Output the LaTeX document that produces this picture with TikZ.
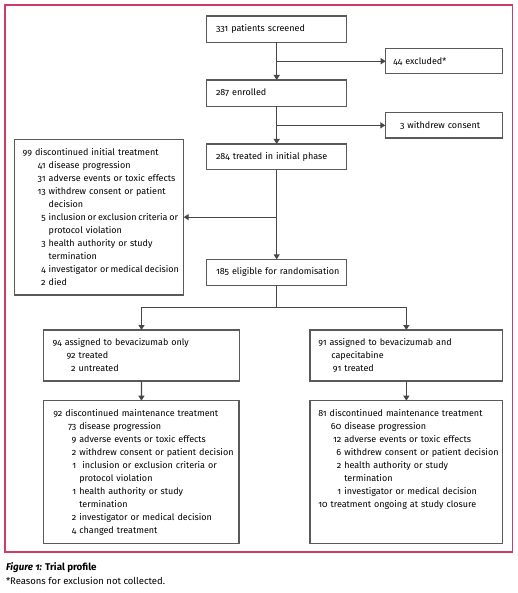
\documentclass[tikz,border=0pt]{standalone}
\usepackage{fontspec}
\setmainfont{Fira Sans}[Numbers={OldStyle,Proportional}]
\usetikzlibrary{arrows.meta}
\definecolor{framec}{RGB}{205,60,100}
\definecolor{linec}{RGB}{70,70,70}
\definecolor{boxc}{RGB}{90,90,90}
\newlength{\numw}
\setlength{\numw}{10pt}
\newcommand{\nm}[2]{\mbox{\hspace*{13pt}\makebox[\numw][r]{#1}\ #2}}
\newcommand{\ct}[1]{\mbox{\hspace*{13pt}\hspace*{\numw}\ #1}}
\newcommand{\hd}[1]{\mbox{#1}}
\newcommand{\tight}[1]{{\spaceskip=0.19em\relax #1}}
\tikzset{
  box/.style={draw=boxc, line width=1.1pt, outer sep=0pt, inner ysep=0pt,
    anchor=north west, align=left, font=\fontsize{9}{13}\selectfont},
  arr/.style={draw=linec, line width=1.1pt, -{Triangle[length=5pt,width=6pt]}},
  ln/.style={draw=linec, line width=1.1pt},
  captxt/.style={anchor=west, inner sep=0pt, outer sep=0pt}
}
\newcommand{\bx}[3]{\node[box, minimum width=#1pt, minimum height=#2pt, text width=#1pt-2*#3pt, inner xsep=#3pt]}
\begin{document}
\begin{tikzpicture}[x=1pt,y=-1pt]
\useasboundingbox (0,0) rectangle (517,593);
\draw[framec, line width=1.1pt] (5,5) rectangle (512.5,552);

\bx{140}{26.3}{9.3} (scr) at (206.7,16) {\hd{331 patients screened}};
\bx{117}{25}{7.7} (excl) at (385.7,48.7) {\hd{44 excluded*}};
\bx{140}{26.3}{9.3} (enr) at (206.7,80) {\hd{287 enrolled}};
\bx{117}{25.3}{14.7} (wd) at (385.3,112.7) {\hd{3 withdrew consent}};
\bx{140}{25.7}{9.3} (tr) at (206.7,144) {\hd{284 treated in initial phase}};
\bx{169}{155.7}{8} (disc) at (14.7,139.3) {\hd{99 discontinued initial treatment}\\
\nm{41}{disease progression}\\
\nm{31}{adverse events or toxic effects}\\
\nm{13}{withdrew consent or patient}\\
\ct{decision}\\
\nm{5}{\tight{inclusion or exclusion criteria or}}\\
\ct{protocol violation}\\
\nm{3}{health authority or study}\\
\ct{termination}\\
\nm{4}{\tight{investigator\ \,or medical decision}}\\
\nm{2}{died}};
\bx{140}{26}{9.3} (elig) at (206.7,259.3) {\hd{185 eligible for randomisation}};
\bx{195.6}{51}{9} (b94) at (43.7,330) {\hd{94 assigned to bevacizumab only}\\
\nm{92}{treated}\\
\nm{2}{untreated}};
\bx{192.7}{51}{8.3} (b91) at (310,330) {\hd{91 assigned to bevacizumab and}\\
\hd{\hspace*{13pt}capecitabine}\\
\nm{91}{treated}};
\bx{195.3}{143}{9.6} (b92) at (43.7,400.7) {\hd{92 discontinued maintenance treatment}\\
\nm{73}{disease progression}\\
\nm{9}{adverse events or toxic effects}\\
\nm{2}{withdrew consent or patient decision}\\
\nm{1}{\ inclusion or exclusion criteria or}\\
\ct{protocol violation}\\
\nm{1}{health authority or study}\\
\ct{termination}\\
\nm{2}{investigator or medical decision}\\
\nm{4}{changed treatment}};
\bx{192.7}{143}{8.3} (b81) at (310,400.7) {\hd{81 discontinued maintenance treatment}\\
\nm{60}{disease progression}\\
\nm{12}{adverse events or toxic effects}\\
\nm{6}{withdrew consent or patient decision}\\
\nm{2}{health authority or study}\\
\ct{termination}\\
\nm{1}{investigator or medical decision}\\
\hd{10 treatment ongoing at study closure}\rule[-28pt]{0pt}{0pt}};

\draw[arr] (scr) -- (enr);
\draw[arr] (scr.south |- excl.west) -- (excl.west);
\draw[arr] (enr) -- (tr);
\draw[arr] (enr.south |- wd.west) -- (wd.west);
\draw[arr] (tr) -- (elig);
\draw[arr] (tr.south |- disc.east) -- (disc.east);
\coordinate (split) at ([yshift=-22pt]elig.south);
\draw[ln] (elig.south) -- (split);
\draw[arr] (split) -| (b94.north);
\draw[arr] (split) -| (b91.north);
\draw[arr] (b94) -- (b92);
\draw[arr] (b91) -- (b81);

\node[captxt, font=\fontsize{9.8}{11}\selectfont\bfseries] (cap1) at (6,567.7) {\textit{Figure 1:} Trial profile};
\node[captxt, font=\fontsize{9.5}{11}\selectfont] (cap2) at (6,580.5) {*Reasons for exclusion not collected.};
\end{tikzpicture}
\end{document}
